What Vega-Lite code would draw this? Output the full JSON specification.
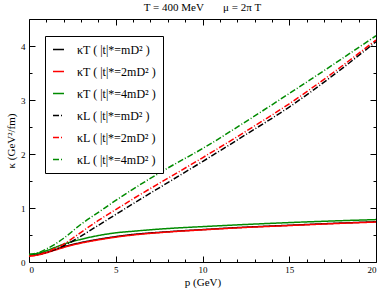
{
  "$schema": "https://vega.github.io/schema/vega-lite/v6.json",
  "width": 347,
  "height": 243,
  "autosize": {"type": "none"},
  "padding": {"left": 29, "top": 19, "right": 6, "bottom": 27},
  "background": "white",
  "title": {"text": "T = 400 MeV\u00a0\u00a0\u00a0\u00a0\u00a0\u00a0\u00a0μ = 2π T", "font": "Liberation Serif", "fontSize": 11, "fontWeight": "normal", "color": "black", "offset": 6, "anchor": "middle"},
  "config": {
    "view": {"stroke": "black", "strokeWidth": 1},
    "axis": {"grid": false, "domain": false, "tickColor": "black", "labelColor": "black", "titleColor": "black", "labelFont": "Liberation Serif", "titleFont": "Liberation Serif", "labelFontSize": 9, "titleFontSize": 11, "titleFontWeight": "normal"}
  },
  "data": {"values": [
    {"p":0,"k":0.12,"s":"κT ( |t|*=mD² )"},{"p":0.5,"k":0.14,"s":"κT ( |t|*=mD² )"},{"p":1,"k":0.18,"s":"κT ( |t|*=mD² )"},{"p":1.5,"k":0.23,"s":"κT ( |t|*=mD² )"},{"p":2,"k":0.28,"s":"κT ( |t|*=mD² )"},{"p":3,"k":0.36,"s":"κT ( |t|*=mD² )"},{"p":4,"k":0.42,"s":"κT ( |t|*=mD² )"},{"p":5,"k":0.47,"s":"κT ( |t|*=mD² )"},{"p":6,"k":0.51,"s":"κT ( |t|*=mD² )"},{"p":8,"k":0.56,"s":"κT ( |t|*=mD² )"},{"p":10,"k":0.6,"s":"κT ( |t|*=mD² )"},{"p":12.5,"k":0.645,"s":"κT ( |t|*=mD² )"},{"p":15,"k":0.68,"s":"κT ( |t|*=mD² )"},{"p":17.5,"k":0.715,"s":"κT ( |t|*=mD² )"},{"p":20,"k":0.745,"s":"κT ( |t|*=mD² )"},
    {"p":0,"k":0.11,"s":"κT ( |t|*=2mD² )"},{"p":0.5,"k":0.13,"s":"κT ( |t|*=2mD² )"},{"p":1,"k":0.17,"s":"κT ( |t|*=2mD² )"},{"p":1.5,"k":0.22,"s":"κT ( |t|*=2mD² )"},{"p":2,"k":0.27,"s":"κT ( |t|*=2mD² )"},{"p":3,"k":0.35,"s":"κT ( |t|*=2mD² )"},{"p":4,"k":0.41,"s":"κT ( |t|*=2mD² )"},{"p":5,"k":0.46,"s":"κT ( |t|*=2mD² )"},{"p":6,"k":0.5,"s":"κT ( |t|*=2mD² )"},{"p":8,"k":0.555,"s":"κT ( |t|*=2mD² )"},{"p":10,"k":0.595,"s":"κT ( |t|*=2mD² )"},{"p":12.5,"k":0.64,"s":"κT ( |t|*=2mD² )"},{"p":15,"k":0.675,"s":"κT ( |t|*=2mD² )"},{"p":17.5,"k":0.71,"s":"κT ( |t|*=2mD² )"},{"p":20,"k":0.74,"s":"κT ( |t|*=2mD² )"},
    {"p":0,"k":0.14,"s":"κT ( |t|*=4mD² )"},{"p":0.5,"k":0.16,"s":"κT ( |t|*=4mD² )"},{"p":1,"k":0.21,"s":"κT ( |t|*=4mD² )"},{"p":1.5,"k":0.27,"s":"κT ( |t|*=4mD² )"},{"p":2,"k":0.33,"s":"κT ( |t|*=4mD² )"},{"p":3,"k":0.42,"s":"κT ( |t|*=4mD² )"},{"p":4,"k":0.49,"s":"κT ( |t|*=4mD² )"},{"p":5,"k":0.54,"s":"κT ( |t|*=4mD² )"},{"p":6,"k":0.57,"s":"κT ( |t|*=4mD² )"},{"p":8,"k":0.62,"s":"κT ( |t|*=4mD² )"},{"p":10,"k":0.655,"s":"κT ( |t|*=4mD² )"},{"p":12.5,"k":0.695,"s":"κT ( |t|*=4mD² )"},{"p":15,"k":0.73,"s":"κT ( |t|*=4mD² )"},{"p":17.5,"k":0.76,"s":"κT ( |t|*=4mD² )"},{"p":20,"k":0.785,"s":"κT ( |t|*=4mD² )"},
    {"p":0,"k":0.12,"s":"κL ( |t|*=mD² )"},{"p":0.5,"k":0.14,"s":"κL ( |t|*=mD² )"},{"p":1,"k":0.18,"s":"κL ( |t|*=mD² )"},{"p":1.5,"k":0.23,"s":"κL ( |t|*=mD² )"},{"p":2,"k":0.3,"s":"κL ( |t|*=mD² )"},{"p":3,"k":0.48,"s":"κL ( |t|*=mD² )"},{"p":4,"k":0.68,"s":"κL ( |t|*=mD² )"},{"p":5,"k":0.88,"s":"κL ( |t|*=mD² )"},{"p":6,"k":1.08,"s":"κL ( |t|*=mD² )"},{"p":8,"k":1.47,"s":"κL ( |t|*=mD² )"},{"p":10,"k":1.86,"s":"κL ( |t|*=mD² )"},{"p":12.5,"k":2.36,"s":"κL ( |t|*=mD² )"},{"p":15,"k":2.87,"s":"κL ( |t|*=mD² )"},{"p":17.5,"k":3.45,"s":"κL ( |t|*=mD² )"},{"p":20,"k":4.08,"s":"κL ( |t|*=mD² )"},
    {"p":0,"k":0.11,"s":"κL ( |t|*=2mD² )"},{"p":0.5,"k":0.13,"s":"κL ( |t|*=2mD² )"},{"p":1,"k":0.18,"s":"κL ( |t|*=2mD² )"},{"p":1.5,"k":0.25,"s":"κL ( |t|*=2mD² )"},{"p":2,"k":0.33,"s":"κL ( |t|*=2mD² )"},{"p":3,"k":0.55,"s":"κL ( |t|*=2mD² )"},{"p":4,"k":0.77,"s":"κL ( |t|*=2mD² )"},{"p":5,"k":0.97,"s":"κL ( |t|*=2mD² )"},{"p":6,"k":1.17,"s":"κL ( |t|*=2mD² )"},{"p":8,"k":1.55,"s":"κL ( |t|*=2mD² )"},{"p":10,"k":1.93,"s":"κL ( |t|*=2mD² )"},{"p":12.5,"k":2.42,"s":"κL ( |t|*=2mD² )"},{"p":15,"k":2.93,"s":"κL ( |t|*=2mD² )"},{"p":17.5,"k":3.5,"s":"κL ( |t|*=2mD² )"},{"p":20,"k":4.11,"s":"κL ( |t|*=2mD² )"},
    {"p":0,"k":0.14,"s":"κL ( |t|*=4mD² )"},{"p":0.5,"k":0.17,"s":"κL ( |t|*=4mD² )"},{"p":1,"k":0.24,"s":"κL ( |t|*=4mD² )"},{"p":1.5,"k":0.33,"s":"κL ( |t|*=4mD² )"},{"p":2,"k":0.44,"s":"κL ( |t|*=4mD² )"},{"p":3,"k":0.7,"s":"κL ( |t|*=4mD² )"},{"p":4,"k":0.92,"s":"κL ( |t|*=4mD² )"},{"p":5,"k":1.14,"s":"κL ( |t|*=4mD² )"},{"p":6,"k":1.35,"s":"κL ( |t|*=4mD² )"},{"p":8,"k":1.74,"s":"κL ( |t|*=4mD² )"},{"p":10,"k":2.1,"s":"κL ( |t|*=4mD² )"},{"p":12.5,"k":2.6,"s":"κL ( |t|*=4mD² )"},{"p":15,"k":3.12,"s":"κL ( |t|*=4mD² )"},{"p":17.5,"k":3.65,"s":"κL ( |t|*=4mD² )"},{"p":20,"k":4.19,"s":"κL ( |t|*=4mD² )"}
  ]},
  "resolve": {"axis": {"x": "independent", "y": "independent"}},
  "layer": [
    {
      "mark": {"type": "line", "strokeWidth": 1.5, "interpolate": "monotone", "clip": true},
      "encoding": {
        "x": {"field": "p", "type": "quantitative", "scale": {"domain": [0, 20], "nice": false},
          "axis": {"orient": "bottom", "title": "p (GeV)", "values": [0, 5, 10, 15, 20], "tickSize": -6, "labelPadding": 9, "titlePadding": 2}},
        "y": {"field": "k", "type": "quantitative", "scale": {"domain": [0, 4.5], "nice": false, "zero": false},
          "axis": {"orient": "left", "title": "κ (GeV²/fm)", "values": [0, 1, 2, 3, 4], "tickSize": -6, "labelPadding": 10, "titlePadding": 4}},
        "color": {"field": "s", "type": "nominal", "sort": null,
          "scale": {"domain": ["κT ( |t|*=mD² )", "κT ( |t|*=2mD² )", "κT ( |t|*=4mD² )", "κL ( |t|*=mD² )", "κL ( |t|*=2mD² )", "κL ( |t|*=4mD² )"],
            "range": ["#000000", "#ff0000", "#008b00", "#000000", "#ff0000", "#008b00"]},
          "legend": {"title": null, "orient": "none", "legendX": 16, "legendY": 17, "padding": 7, "strokeColor": "black", "fillColor": "white", "symbolType": "stroke", "symbolSize": 121, "symbolStrokeWidth": 1.5, "labelFont": "Liberation Serif", "labelFontSize": 12, "labelColor": "black", "labelOffset": 12, "rowPadding": 9, "cornerRadius": 0}},
        "strokeDash": {"field": "s", "type": "nominal", "sort": null,
          "scale": {"domain": ["κT ( |t|*=mD² )", "κT ( |t|*=2mD² )", "κT ( |t|*=4mD² )", "κL ( |t|*=mD² )", "κL ( |t|*=2mD² )", "κL ( |t|*=4mD² )"],
            "range": [[1, 0], [1, 0], [1, 0], [6, 2, 1, 2], [6, 2, 1, 2], [6, 2, 1, 2]]},
          "legend": null}
      }
    },
    {
      "mark": {"type": "line", "strokeOpacity": 0},
      "encoding": {
        "x": {"field": "p", "type": "quantitative", "axis": {"orient": "top", "title": null, "labels": false, "values": [0, 5, 10, 15, 20], "tickSize": -6}},
        "y": {"field": "k", "type": "quantitative", "axis": {"orient": "right", "title": null, "labels": false, "values": [0, 1, 2, 3, 4], "tickSize": -6}},
        "detail": {"field": "s"}
      }
    },
    {
      "mark": {"type": "line", "strokeOpacity": 0},
      "encoding": {
        "x": {"field": "p", "type": "quantitative", "axis": {"orient": "bottom", "title": null, "labels": false, "values": [1, 2, 3, 4, 6, 7, 8, 9, 11, 12, 13, 14, 16, 17, 18, 19], "tickSize": -3}},
        "y": {"field": "k", "type": "quantitative", "axis": {"orient": "left", "title": null, "labels": false, "values": [0.5, 1.5, 2.5, 3.5], "tickSize": -3}},
        "detail": {"field": "s"}
      }
    },
    {
      "mark": {"type": "line", "strokeOpacity": 0},
      "encoding": {
        "x": {"field": "p", "type": "quantitative", "axis": {"orient": "top", "title": null, "labels": false, "values": [1, 2, 3, 4, 6, 7, 8, 9, 11, 12, 13, 14, 16, 17, 18, 19], "tickSize": -3}},
        "y": {"field": "k", "type": "quantitative", "axis": {"orient": "right", "title": null, "labels": false, "values": [0.5, 1.5, 2.5, 3.5], "tickSize": -3}},
        "detail": {"field": "s"}
      }
    }
  ]
}
